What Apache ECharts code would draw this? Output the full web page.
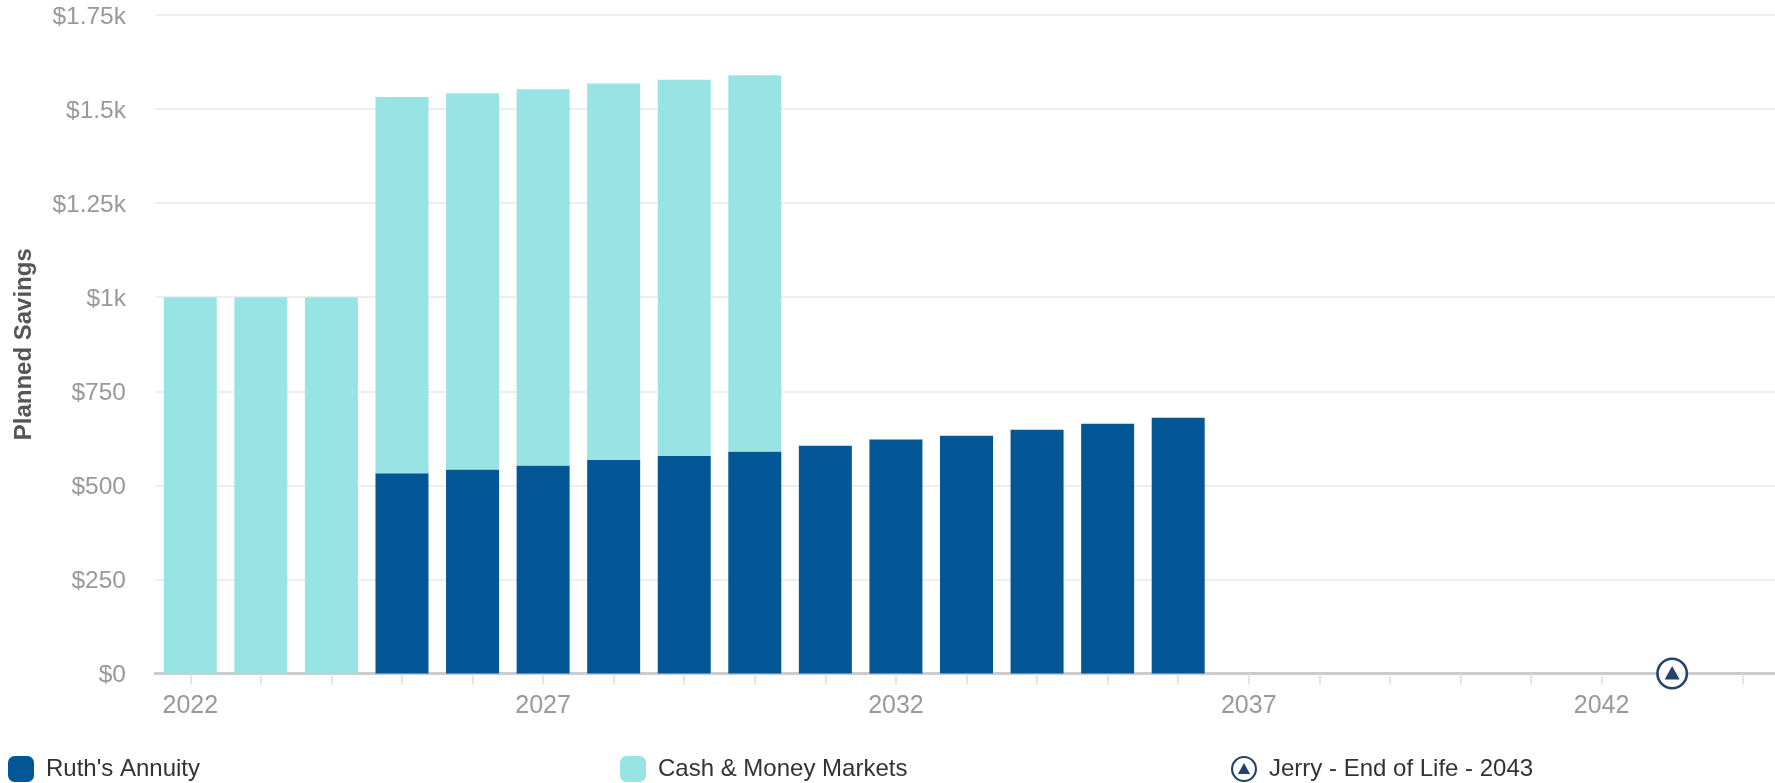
<!DOCTYPE html>
<html>
<head>
<meta charset="utf-8">
<title>Planned Savings</title>
<script src="https://cdn.jsdelivr.net/npm/echarts@6/dist/echarts.min.js"></script>
<style>
  html, body { margin: 0; padding: 0; background: #fff; overflow: hidden; }
  #chart { width: 1775px; height: 783px; }
</style>
</head>
<body>
<div id="chart"></div>
<script>
// Savings plan by year
const years = ['2022','2023','2024','2025','2026','2027','2028','2029','2030','2031','2032','2033','2034','2035','2036','2037','2038','2039','2040','2041','2042','2043','2044'];
const ruthsAnnuity = [null,null,null,532,542,553,568,578,590,605,622,632,648,664,680,null,null,null,null,null,null,null,null];
const cashMoneyMarkets = [1000,1000,1000,1000,1000,1000,1000,1000,1000,null,null,null,null,null,null,null,null,null,null,null,null,null,null];
const endOfLife = [null,null,null,null,null,null,null,null,null,null,null,null,null,null,null,null,null,null,null,null,null,0,null];

const seriesNames = ["Ruth's Annuity", 'Cash & Money Markets', 'Jerry - End of Life - 2043'];
const yTicks = { min: 0, max: 1750, step: 250 };

// Ring with a triangle inside, shared by the marker and its legend entry
const eventIcon = 'path://M16 0A16 16 0 1 1 16 32A16 16 0 1 1 16 0Z M16 2.6A13.4 13.4 0 1 0 16 29.4A13.4 13.4 0 1 0 16 2.6Z M16 8.5L23.5 22L8.5 22Z';
const font = '"Liberation Sans", Arial, sans-serif';

const legendEntry = (name, left, icon, color) => ({
  left, top: 756, orient: 'horizontal', selectedMode: false,
  itemWidth: 26, itemHeight: 26, padding: 0,
  data: [{ name, icon, itemStyle: color ? { color } : undefined }],
  textStyle: { fontFamily: font, fontSize: 24, color: '#333', padding: [0, 0, 0, 7] }
});

const chart = echarts.init(document.getElementById('chart'), null, { renderer: 'canvas' });
chart.setOption({
  animation: false,
  backgroundColor: '#fff',
  grid: { left: 155, right: -3, top: 15, bottom: 109.5, outerBoundsMode: 'none' },
  legend: [
    legendEntry(seriesNames[0], 8, 'roundRect'),
    legendEntry(seriesNames[1], 620, 'roundRect'),
    legendEntry(seriesNames[2], 1231, eventIcon)
  ],
  xAxis: {
    type: 'category',
    data: years,
    boundaryGap: true,
    axisLine: { lineStyle: { color: '#ccc', width: 3 } },
    axisTick: { show: true, alignWithLabel: true, interval: 0, length: 11, lineStyle: { color: '#ddd', width: 1.5 } },
    axisLabel: { interval: 4, color: '#999', fontFamily: font, fontSize: 25, margin: 20 },
    splitLine: { show: false }
  },
  yAxis: {
    type: 'value',
    min: yTicks.min, max: yTicks.max, interval: yTicks.step,
    name: 'Planned Savings',
    nameLocation: 'middle',
    nameGap: 119,
    nameTextStyle: { fontFamily: font, fontSize: 24, fontWeight: 'bold', color: '#555' },
    axisLine: { show: false },
    axisTick: { show: false },
    axisLabel: {
      color: '#999', fontFamily: font, fontSize: 24.5, margin: 29,
      verticalAlign: 'top', lineHeight: 4,
      formatter: v => v >= 1000 ? '$' + (v / 1000) + 'k' : '$' + v
    },
    splitLine: { lineStyle: { color: '#e9e9e9', width: 1.5 } }
  },
  series: [
    {
      name: seriesNames[0], type: 'bar', stack: 'savings', data: ruthsAnnuity,
      barWidth: 53, itemStyle: { color: '#035797' }
    },
    {
      name: seriesNames[1], type: 'bar', stack: 'savings', data: cashMoneyMarkets,
      barWidth: 53, itemStyle: { color: '#98e4e5' }
    },
    {
      // White disc keeps the axis line from showing through the ring
      name: 'marker backing', type: 'scatter', data: endOfLife, symbol: 'circle', symbolSize: 30,
      itemStyle: { color: '#fff' }, clip: false, z: 4, silent: true
    },
    {
      name: seriesNames[2], type: 'scatter', data: endOfLife, symbol: eventIcon, symbolSize: 32,
      itemStyle: { color: '#24436c', opacity: 1 }, clip: false, z: 5
    }
  ]
});
</script>
</body>
</html>
